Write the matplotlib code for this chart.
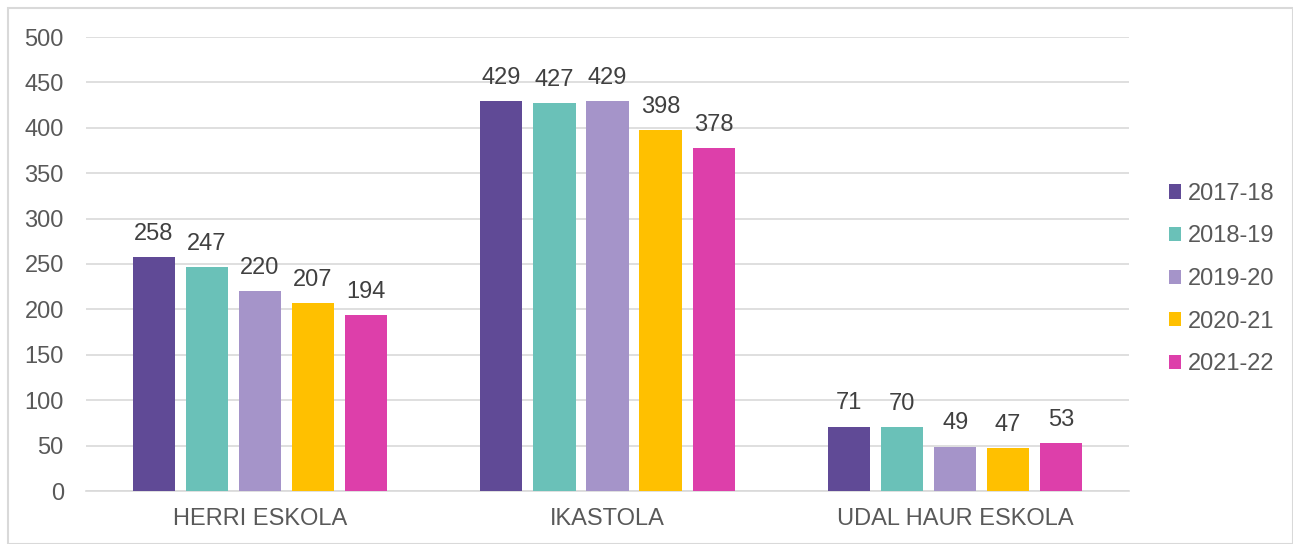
"""Grouped bar chart of pupils per school type and year."""

import matplotlib.pyplot as plt
import numpy as np

plt.rcParams['font.family'] = ['Liberation Sans', 'DejaVu Sans']

# Data
categories = ["HERRI ESKOLA", "IKASTOLA", "UDAL HAUR ESKOLA"]
years = ["2017-18", "2018-19", "2019-20", "2020-21", "2021-22"]
y2017 = [258, 429, 71]
y2018 = [247, 427, 70]
y2019 = [220, 429, 49]
y2020 = [207, 398, 47]
y2021 = [194, 378, 53]
series = [y2017, y2018, y2019, y2020, y2021]
colors = ["#604A96", "#6AC1B8", "#A594C9", "#FFC000", "#DD3FAA"]
text_col = "#595959"
fs = 17

fig = plt.figure(figsize=(12.93, 5.44), dpi=100)
ax = fig.add_axes([86 / 1293, 53 / 544, 1043 / 1293, 454 / 544])

x = np.arange(len(categories))
width = 0.121
step = 0.1525
for i, (vals, col, lab) in enumerate(zip(series, colors, years)):
    pos = x + (i - 2) * step
    bars = ax.bar(pos, vals, width, color=col, label=lab, zorder=3)
    for b, v in zip(bars, vals):
        ax.annotate(str(v), (b.get_x() + b.get_width() / 2, v),
                    xytext=(0, 12.3), textcoords="offset points",
                    ha="center", va="baseline", fontsize=fs, color="#404040")

ax.set_xlim(-0.5, 2.5)
ax.set_ylim(0, 500)
ax.set_yticks(range(0, 501, 50))
ax.set_xticks(x)
ax.set_xticklabels(categories)
ax.tick_params(axis="both", length=0, labelsize=fs, labelcolor=text_col)
ax.tick_params(axis="y", pad=16)
ax.tick_params(axis="x", pad=12)
ax.yaxis.grid(True, color="#D9D9D9", linewidth=1.2, zorder=0)
for s in ["top", "right", "left"]:
    ax.spines[s].set_visible(False)
ax.spines["bottom"].set_color("#D9D9D9")
ax.spines["bottom"].set_linewidth(1.2)

leg = ax.legend(loc="center left", bbox_to_anchor=(1.0175, 0.467), frameon=False,
                fontsize=fs, labelcolor=text_col, handlelength=0.55,
                handleheight=0.55, handletextpad=0.25, labelspacing=0.87)

# outer border
fig.patches.append(plt.Rectangle((8 / 1293, 0), 1 - 8 / 1293, 1 - 8 / 544,
                                 transform=fig.transFigure, fill=False,
                                 edgecolor="#D9D9D9", linewidth=1.5))

plt.savefig("out.png", dpi=100)
